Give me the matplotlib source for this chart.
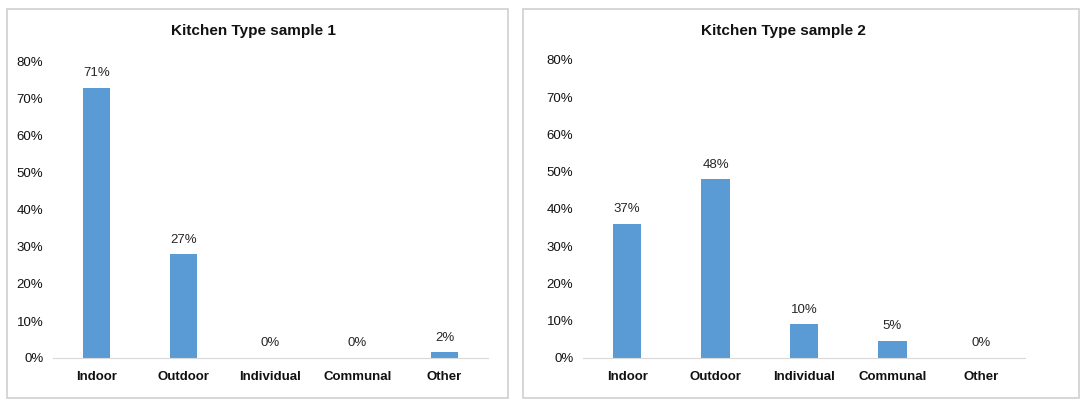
import matplotlib.pyplot as plt
from matplotlib.patches import Rectangle
from matplotlib.ticker import PercentFormatter

plt.rcParams["font.family"] = ["Liberation Sans", "DejaVu Sans"]

categories = ["Indoor", "Outdoor", "Individual", "Communal", "Other"]

sample1_heights = [73.0, 28.0, 0.0, 0.0, 1.6]
sample1_labels = ["71%", "27%", "0%", "0%", "2%"]
sample2_heights = [36.0, 48.0, 9.0, 4.6, 0.0]
sample2_labels = ["37%", "48%", "10%", "5%", "0%"]

titles = ["Kitchen Type sample 1", "Kitchen Type sample 2"]
bar_color = "#5B9BD5"

W, H = 1080, 403
fig = plt.figure(figsize=(W / 100, H / 100), dpi=100)
fig.patch.set_facecolor("white")

# panel frames (pixels: x0, y0, x1, y1)
frames = [(7, 9, 508, 398), (523, 9, 1079, 398)]
for x0, y0, x1, y1 in frames:
    fig.patches.append(Rectangle((x0 / W, 1 - y1 / H), (x1 - x0) / W, (y1 - y0) / H,
                                 transform=fig.transFigure, fill=False,
                                 edgecolor="#d0d0d0", linewidth=1.2))

# axes boxes in pixels: left, right, top (80%), bottom (0%)
boxes = [(53, 488, 62, 358), (583, 1025, 60, 358)]
title_x = [253, 783]

panels = [(sample1_heights, sample1_labels), (sample2_heights, sample2_labels)]
for i, (heights, labels) in enumerate(panels):
    l, r, t, b = boxes[i]
    ax = fig.add_axes([l / W, 1 - b / H, (r - l) / W, (b - t) / H])
    x = range(len(categories))
    ax.bar(x, heights, width=0.32, color=bar_color, zorder=2)
    for xi, h, lab in zip(x, heights, labels):
        ax.text(xi, h + 2.3, lab, ha="center", va="bottom", fontsize=9.5, color="#262626")
    ax.set_xlim(-0.5, len(categories) - 0.5)
    ax.set_ylim(0, 80)
    ax.set_yticks(range(0, 81, 10))
    ax.yaxis.set_major_formatter(PercentFormatter(decimals=0))
    ax.set_xticks(list(x))
    ax.set_xticklabels(categories, fontweight="bold", fontsize=9.5)
    ax.tick_params(axis="both", length=0, labelsize=9.5, colors="#111111")
    ax.tick_params(axis="x", pad=9)
    ax.tick_params(axis="y", pad=7)
    for side in ["top", "right", "left"]:
        ax.spines[side].set_visible(False)
    ax.spines["bottom"].set_color("#d9d9d9")
    ax.set_facecolor("none")
    fig.text(title_x[i] / W, 1 - 31 / H, titles[i], ha="center", va="center",
             fontsize=11, fontweight="bold", color="#111111")

fig.savefig("out.png", dpi=100)
